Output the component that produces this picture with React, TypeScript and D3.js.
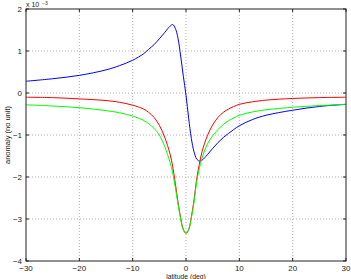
import React from "react";
import * as d3 from "d3";

const latitudes = [-30, -25, -20, -15, -12.5, -10, -8, -7, -6, -5, -4, -3, -2.5, -2, -1.5, -1, -0.5, 0, 0.5, 1, 1.5, 2, 2.5, 3, 4, 5, 6, 7, 8, 10, 12.5, 15, 20, 25, 30];
const blueSeries = [0.28, 0.34, 0.42, 0.55, 0.65, 0.78, 0.93, 1.04, 1.15, 1.29, 1.44, 1.59, 1.63, 1.54, 1.3, 0.88, 0.4, -0.05, -0.6, -1.08, -1.4, -1.57, -1.62, -1.6, -1.47, -1.32, -1.18, -1.06, -0.96, -0.78, -0.63, -0.53, -0.41, -0.32, -0.27];
const redSeries = [-0.10, -0.11, -0.14, -0.18, -0.22, -0.29, -0.38, -0.46, -0.58, -0.77, -1.05, -1.45, -1.75, -2.15, -2.6, -2.97, -3.25, -3.34, -3.25, -2.95, -2.55, -2.05, -1.7, -1.4, -1.02, -0.76, -0.58, -0.46, -0.38, -0.27, -0.21, -0.17, -0.13, -0.11, -0.10];
const greenSeries = [-0.28, -0.31, -0.35, -0.42, -0.47, -0.55, -0.65, -0.73, -0.84, -1.0, -1.27, -1.65, -1.9, -2.25, -2.65, -3.0, -3.26, -3.34, -3.26, -2.98, -2.6, -2.12, -1.8, -1.55, -1.22, -1.02, -0.87, -0.75, -0.66, -0.53, -0.45, -0.40, -0.34, -0.30, -0.27];
const xTicks = [-30, -20, -10, 0, 10, 20, 30];
const yTicks = [-4, -3, -2, -1, 0, 1, 2];
const seriesColors = ["#0000ff", "#ff0000", "#00ff00"];

const W = 351, H = 279;
const M = { left: 26, right: 346, top: 9, bottom: 261 };

const fmt = (v: number) => (v < 0 ? "\u2212" + Math.abs(v) : String(v));

export default function App() {
  const x = d3.scaleLinear().domain([-30, 30]).range([M.left, M.right]);
  const y = d3.scaleLinear().domain([-4, 2]).range([M.bottom, M.top]);
  const line = d3
    .line<number>()
    .x((_, i) => x(latitudes[i]))
    .y((d) => y(d))
    .curve(d3.curveCatmullRom.alpha(0.5));
  const series = [blueSeries, redSeries, greenSeries];
  const font = "'Liberation Sans', Arial, sans-serif";
  return (
    <svg width={W} height={H} style={{ position: "absolute", left: 0, top: 0, background: "#fff" }} fontFamily={font}>
      <rect x={0} y={0} width={W} height={H} fill="#fff" />
      {xTicks.slice(1, -1).map((t) => (
        <line key={"gx" + t} x1={x(t)} x2={x(t)} y1={M.top} y2={M.bottom} stroke="#b0b0b0" strokeWidth={1} strokeDasharray="1,2" />
      ))}
      {yTicks.slice(1, -1).map((t) => (
        <line key={"gy" + t} x1={M.left} x2={M.right} y1={y(t)} y2={y(t)} stroke="#b0b0b0" strokeWidth={1} strokeDasharray="1,2" />
      ))}
      {series.map((s, i) => (
        <path key={i} d={line(s) || ""} fill="none" stroke={seriesColors[i]} strokeWidth={1} />
      ))}
      <rect x={M.left} y={M.top} width={M.right - M.left} height={M.bottom - M.top} fill="none" stroke="#222" strokeWidth={1} />
      {xTicks.map((t) => (
        <g key={"tx" + t}>
          <line x1={x(t)} x2={x(t)} y1={M.bottom} y2={M.bottom - 3} stroke="#222" />
          <line x1={x(t)} x2={x(t)} y1={M.top} y2={M.top + 3} stroke="#222" />
          <text x={x(t)} y={270.5} fontSize={8} textAnchor="middle" fill="#222">{fmt(t)}</text>
        </g>
      ))}
      {yTicks.map((t) => (
        <g key={"ty" + t}>
          <line x1={M.left} x2={M.left + 3} y1={y(t)} y2={y(t)} stroke="#222" />
          <line x1={M.right} x2={M.right - 3} y1={y(t)} y2={y(t)} stroke="#222" />
          <text x={22} y={y(t) + 3} fontSize={8} textAnchor="end" fill="#222">{fmt(t)}</text>
        </g>
      ))}
      <text x={26} y={7} fontSize={7} fill="#222">x 10</text>
      <text x={42} y={4.5} fontSize={5} fill="#222">{"\u22123"}</text>
      <text transform={`translate(10,${(M.top + M.bottom) / 2}) rotate(-90)`} fontSize={7.5} textAnchor="middle" fill="#222">anomaly (no unit)</text>
      <text x={x(0)} y={278.5} fontSize={6.8} textAnchor="middle" fill="#222">latitude (deg)</text>
    </svg>
  );
}
